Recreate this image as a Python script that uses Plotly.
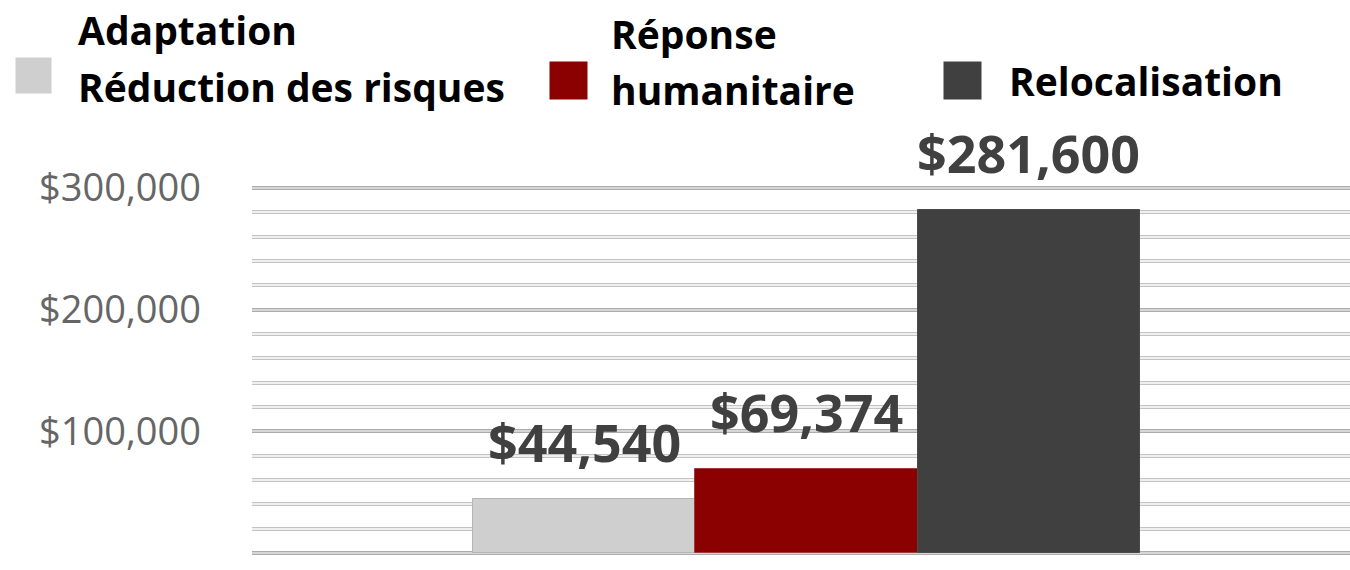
import plotly.graph_objects as go

# ---- data ----
categories = ["Adaptation Réduction des risques", "Réponse humanitaire", "Relocalisation"]
legend_lines = [["Adaptation", "Réduction des risques"], ["Réponse", "humanitaire"], ["Relocalisation"]]
values = [44540, 69374, 281600]
value_labels = ["$44,540", "$69,374", "$281,600"]
bar_colors = ["#cfcfcf", "#8b0000", "#404040"]
bar_edges = ["#b5b5b5", "#a33a3a", "#4a4a4a"]
tick_vals = [0, 100000, 200000, 300000]
tick_text = ["$-\u00a0\u00a0", "$100,000", "$200,000", "$300,000"]

W, H = 1350, 570
ML, MR, MT, MB = 252, 0, 186, 15
YR = [-1500, 301500]
XR = [-1.494, 3.445]

fig = go.Figure()
fig.add_trace(go.Bar(
    x=categories, y=values,
    marker=dict(color=bar_colors, line=dict(color=bar_edges, width=1)),
    showlegend=False, hoverinfo="skip",
))
# empty helper trace so the overlay grid axis is rendered
fig.add_trace(go.Scatter(x=[], y=[], yaxis="y2", showlegend=False))

# value labels above bars
for c, v, t in zip(categories, values, value_labels):
    fig.add_annotation(x=c, y=v, text=t, showarrow=False, yanchor="bottom",
                       xanchor="center", yshift=20,
                       font=dict(family="Open Sans", size=52, color="#404040", weight="bold"))

# custom legend (layout elements)
def px(x):
    return (x - ML) / (W - ML - MR)

def py(y):
    return (H - MB - y) / (H - MT - MB)

swatches = [(33, 75, 35), (568, 80, 37), (962, 80, 37)]
text_left = [76, 609, 1007]
line_y = [[29, 86], [33, 89], [80]]
for i in range(len(categories)):
    sx, sy, ss = swatches[i]
    fig.add_annotation(xref="paper", yref="paper", x=px(sx), y=py(sy), text=" ",
                       showarrow=False, xanchor="center", yanchor="middle",
                       width=ss, height=ss, bgcolor=bar_colors[i], borderpad=0,
                       font=dict(size=4))
    for line, ly in zip(legend_lines[i], line_y[i]):
        fig.add_annotation(xref="paper", yref="paper", x=px(text_left[i]), y=py(ly),
                           text=line, showarrow=False, xanchor="left", yanchor="middle",
                           font=dict(family="Open Sans", size=39, color="#000000",
                                     weight="bold"))

fig.update_layout(
    width=W, height=H,
    margin=dict(l=ML, r=MR, t=MT, b=MB),
    paper_bgcolor="white", plot_bgcolor="white",
    bargap=0,
    xaxis=dict(type="category", range=XR, showticklabels=False, showgrid=False,
               zeroline=False, showline=False, ticks=""),
    yaxis=dict(range=YR, tickvals=tick_vals, ticktext=tick_text,
               showgrid=True, gridcolor="#acacac", gridwidth=4,
               minor=dict(dtick=20000, tick0=0, showgrid=True, gridcolor="#c3c3c3", gridwidth=4),
               zeroline=False, showline=False, ticks="", ticklabelstandoff=50,
               tickfont=dict(family="Open Sans", size=38, color="#666666")),
    yaxis2=dict(range=YR, overlaying="y", side="left", tickvals=tick_vals,
                showticklabels=False, showgrid=True, gridcolor="#d6d6d6", gridwidth=1.6,
                minor=dict(dtick=20000, tick0=0, showgrid=True, gridcolor="#efefef", gridwidth=1.6),
                zeroline=False, showline=False, ticks=""),
)

fig.write_html(
    "out.html",
    config={"displayModeBar": False},
    post_script="document.body.style.margin='0';document.body.style.overflow='hidden';",
)
